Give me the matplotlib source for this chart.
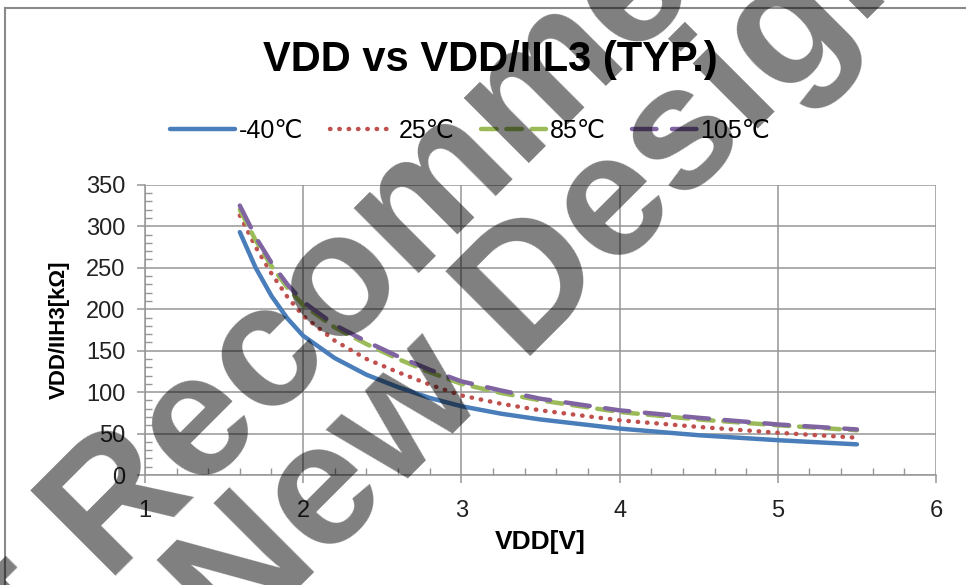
import matplotlib
matplotlib.use("Agg")
import matplotlib.pyplot as plt
from matplotlib.ticker import MultipleLocator

# data
vdd = [1.6, 1.7, 1.8, 1.9, 2.0, 2.2, 2.4, 2.6, 2.8, 3.0, 3.25, 3.5, 4.0, 4.5, 5.0, 5.5]
r_m40 = [293, 250, 216, 189, 168, 141, 121, 106, 93, 83, 74, 67, 56, 48, 42, 37]
r_25 = [313, 275, 243, 215, 192, 162, 140, 124, 109, 96, 86, 78, 66, 58, 51, 45]
r_85 = [320, 283, 252, 226, 205, 178, 158, 140, 124, 110, 99, 90, 76, 67, 60, 54]
r_105 = [325, 287, 256, 230, 209, 181, 161, 143, 127, 113, 102, 92, 78, 69, 61, 55]
labels = ["-40℃", "25℃", "85℃", "105℃"]

fonts = ["Liberation Sans", "DejaVu Sans"]

fig = plt.figure(figsize=(9.66, 5.85), dpi=100)
ax = fig.add_axes([0.150, 0.188, 0.819, 0.496])

lw = 3.2
ax.plot(vdd, r_m40, color="#4a7ebb", lw=lw, solid_capstyle="round", label=labels[0])
ax.plot(vdd, r_25, color="#c0504d", lw=lw, linestyle=(0, (0.1, 2.0)),
        dash_capstyle="round", label=labels[1])
ax.plot(vdd, r_85, color="#9bbb59", lw=lw, linestyle=(0, (3.5, 2.2)),
        dash_capstyle="round", label=labels[2])
ax.plot(vdd, r_105, color="#8064a2", lw=lw, linestyle=(0, (5.5, 3.5)),
        dash_capstyle="round", label=labels[3])

ax.set_xlim(1, 6)
ax.set_ylim(0, 350)
ax.xaxis.set_major_locator(MultipleLocator(1))
ax.xaxis.set_minor_locator(MultipleLocator(0.2))
ax.yaxis.set_major_locator(MultipleLocator(50))
ax.yaxis.set_minor_locator(MultipleLocator(10))
ax.grid(True, which="major", color="#969696", lw=1.1)
ax.set_axisbelow(True)
for s in ["top", "right"]:
    ax.spines[s].set_visible(False)
for s in ["left", "bottom"]:
    ax.spines[s].set_color("#969696")
    ax.spines[s].set_linewidth(1.1)
ax.tick_params(which="major", direction="out", length=6, width=1.1, color="#969696",
               labelsize=17, labelcolor="#222222")
ax.tick_params(which="minor", direction="in", length=5, width=1.0, color="#969696")
ax.tick_params(axis="x", which="major", pad=12)
ax.tick_params(axis="y", which="major", pad=8)
for t in ax.get_xticklabels() + ax.get_yticklabels():
    t.set_family(fonts)

ax.set_xlabel("VDD[V]", fontsize=19, fontweight="bold", family=fonts, labelpad=6)
ax.set_ylabel("VDD/IIH3[kΩ]", fontsize=16, fontweight="bold", family=fonts)
ax.yaxis.set_label_coords(-0.095, 0.5)

fig.text(0.508, 0.897, "VDD vs VDD/IIL3 (TYP.)", ha="center", va="center",
         fontsize=30, fontweight="bold", family=fonts)

leg = fig.legend(loc="center", bbox_to_anchor=(0.487, 0.776), ncol=4, frameon=False,
                 prop={"family": fonts, "size": 18}, handlelength=2.6,
                 handletextpad=0.15, columnspacing=1.05)

# outer chart frame
fig.add_artist(plt.Line2D([5 / 966, 5 / 966], [0, 1 - 8 / 585], transform=fig.transFigure,
                          color="#8a8a8a", lw=1.5))
fig.add_artist(plt.Line2D([5 / 966, 1], [1 - 8 / 585, 1 - 8 / 585], transform=fig.transFigure,
                          color="#8a8a8a", lw=1.5))

# watermark
wm = dict(fontsize=126, fontweight="bold", family="Liberation Sans", color="black", alpha=0.5,
          rotation=45, rotation_mode="anchor", ha="left", va="baseline", zorder=10)
fig.text(-0.137, -0.410, "Not Recommended for", **wm)
fig.text(0.242, -0.116, "New Design", **wm)

fig.savefig("out.png", dpi=100)
